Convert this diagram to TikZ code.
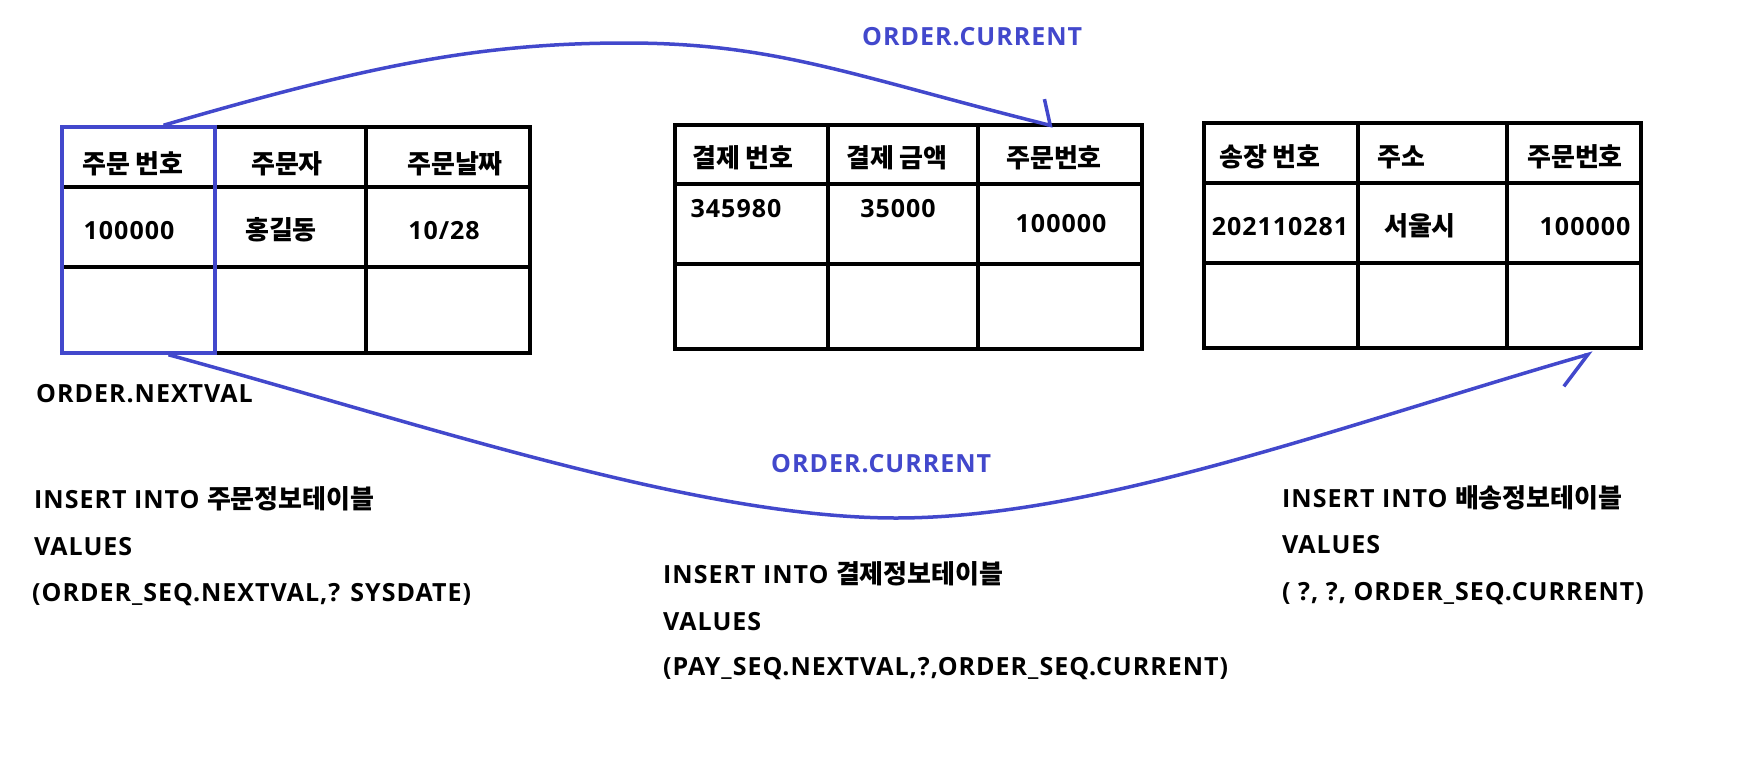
\documentclass[tikz,border=0pt]{standalone}
\usepackage{fontspec}
\setmainfont{Open Sans}[LetterSpace=4]
\newfontfamily\kr{Noto Sans CJK KR Bold}[Scale=1.04]
\usetikzlibrary{arrows.meta}
\definecolor{seqblue}{RGB}{66,72,204}

\begin{document}
\begin{tikzpicture}[x=1pt,y=-1pt,
  every node/.style={font=\fontsize{25}{30}\selectfont\bfseries,inner sep=0pt},
  grid/.style={line width=4pt,black},
  seq/.style={line width=3.5pt,seqblue},
  sql/.style={anchor=base west},
  seqlabel/.style={anchor=base west,text=seqblue}]
\useasboundingbox (0,0) rectangle (1756,774);

% order table
\draw[grid] (62,127) rectangle (530,353);
\draw[grid] (62,187) -- (530,187) (62,267) -- (530,267) (215,127) -- (215,353) (366,127) -- (366,353);
\node (ordh1) at (133,164) {\kr 주문 번호};
\node (ordh2) at (287,164) {\kr 주문자};
\node (ordh3) at (455,164) {\kr 주문날짜};
\node (ordd1) at (129,231) {100000};
\node (ordd2) at (281,230) {\kr 홍길동};
\node (ordd3) at (444,231) {10/28};

% payment table
\draw[grid] (675,125) rectangle (1142,349);
\draw[grid] (675,184) -- (1142,184) (675,264) -- (1142,264) (828,125) -- (828,349) (978,125) -- (978,349);
\node (payh1) at (743,158) {\kr 결제 번호};
\node (payh2) at (897,158) {\kr 결제 금액};
\node (payh3) at (1054,158) {\kr 주문번호};
\node (payd1) at (736,209) {345980};
\node (payd2) at (898,209) {35000};
\node (payd3) at (1061,224) {100000};

% shipping table
\draw[grid] (1204,123) rectangle (1641,348);
\draw[grid] (1204,183) -- (1641,183) (1204,263) -- (1641,263) (1358,123) -- (1358,348) (1507,123) -- (1507,348);
\node (shph1) at (1270,157) {\kr 송장 번호};
\node (shph2) at (1401,157) {\kr 주소};
\node (shph3) at (1575,157) {\kr 주문번호};
\node (shpd1) at (1280,227) {202110281};
\node (shpd2) at (1420,226) {\kr 서울시};
\node (shpd3) at (1585,227) {100000};

% sequence column and arrows
\node[draw=seqblue,line width=3.5pt,minimum width=153pt,minimum height=226pt] (ordno) at (138.5,240) {};
\coordinate (paytip) at (1053,126);
\coordinate (shiptip) at (1593,353);
\draw[seq,-{Straight Barb[left,length=12pt,width=48pt]}] ([xshift=25pt]ordno.north)
  .. controls (364,67) and (476,43) .. (626,43)
  .. controls (776,43) and (853,76) .. (paytip);
\draw[seq,-{Straight Barb[right,length=32pt,width=48pt]}] ([xshift=30pt]ordno.south)
  .. controls (419,423) and (696,518) .. (896,518)
  .. controls (1096,518) and (1343,425) .. (shiptip);

\node[seqlabel] (curtop) at (862,45) {ORDER.CURRENT};
\node[seqlabel] (curmid) at (771,472) {ORDER.CURRENT};
\node[sql] (nextval) at (36,402) {ORDER.NEXTVAL};

% insert statements
\node[sql] (ordsql1) at (34,508) {INSERT INTO {\kr 주문정보테이블}};
\node[sql] (ordsql2) at (34,555) {VALUES};
\node[sql] (ordsql3) at (32,601) {(ORDER\_SEQ.NEXTVAL,? SYSDATE)};
\node[sql] (paysql1) at (663,583) {INSERT INTO {\kr 결제정보테이블}};
\node[sql] (paysql2) at (663,630) {VALUES};
\node[sql] (paysql3) at (663,675) {(PAY\_SEQ.NEXTVAL,?,ORDER\_SEQ.CURRENT)};
\node[sql] (shpsql1) at (1282,507) {INSERT INTO {\kr 배송정보테이블}};
\node[sql] (shpsql2) at (1282,553) {VALUES};
\node[sql] (shpsql3) at (1282,600) {( ?, ?, ORDER\_SEQ.CURRENT)};
\end{tikzpicture}
\end{document}
